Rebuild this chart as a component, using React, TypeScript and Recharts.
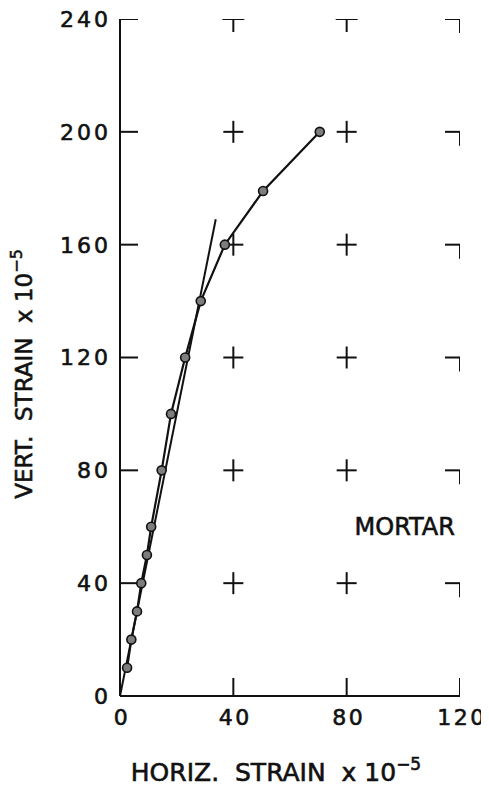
import React from "react";
import { ComposedChart, Line, Scatter, XAxis, YAxis, ReferenceDot, Label } from "recharts";

// Measured points (horizontal strain x 1e-5, vertical strain x 1e-5)
const horizStrain = [2.5, 4, 6, 7.5, 9.5, 11, 14.7, 18, 23, 28.5, 37, 50.5, 70.5];
const vertStrain = [10, 20, 30, 40, 50, 60, 80, 100, 120, 140, 160, 179, 200];

// Initial tangent line
const tangentHoriz = [0, 33.8];
const tangentVert = [0, 169];

const xTicks = [0, 40, 80, 120];
const yTicks = [0, 40, 80, 120, 160, 200, 240];

const annotation = "MORTAR";
const annotationX = 100.5;
const annotationY = 60;

const curve = horizStrain.map((x, i) => ({ x, y: vertStrain[i] }));
const tangent = tangentHoriz.map((x, i) => ({ x, y: tangentVert[i] }));

const xMax = xTicks[xTicks.length - 1];
const yMax = yTicks[yTicks.length - 1];
const gridMarks: { x: number; y: number; kind: string }[] = [];
yTicks.filter((v) => v > 0).forEach((y) => {
  gridMarks.push({ x: 0, y, kind: "ytick" });
  gridMarks.push({ x: xMax, y, kind: "corner" });
  xTicks.filter((v) => v > 0 && v < xMax).forEach((x) => {
    gridMarks.push({ x, y, kind: y === yMax ? "tee" : "cross" });
  });
});
xTicks.filter((v) => v > 0).forEach((x) => gridMarks.push({ x, y: 0, kind: "xtick" }));

const INK = "#111";
const FONT = "'DejaVu Sans', sans-serif";
const heavy = { stroke: INK, strokeWidth: 0.6 };

const GridMark = (props: any) => {
  const { cx, cy, payload } = props;
  const s = { stroke: INK, strokeWidth: 2, fill: "none" };
  switch (payload.kind) {
    case "cross":
      return (
        <g>
          <line x1={cx - 10} y1={cy} x2={cx + 10} y2={cy} {...s} />
          <line x1={cx} y1={cy - 11} x2={cx} y2={cy + 11} {...s} />
        </g>
      );
    case "tee":
      return (
        <g>
          <line x1={cx - 11} y1={cy} x2={cx + 11} y2={cy} {...s} />
          <line x1={cx} y1={cy} x2={cx} y2={cy + 13} {...s} />
        </g>
      );
    case "corner":
      return (
        <g>
          <line x1={cx - 15} y1={cy} x2={cx + 1} y2={cy} {...s} />
          <line x1={cx} y1={cy} x2={cx} y2={cy + 14} {...s} />
        </g>
      );
    case "ytick":
      return <line x1={cx} y1={cy} x2={cx + 18} y2={cy} {...s} />;
    case "xtick":
      return <line x1={cx} y1={cy} x2={cx} y2={cy - 18} {...s} />;
    default:
      return <g />;
  }
};

const Dot = (props: any) => {
  const { cx, cy } = props;
  if (cx == null || cy == null) return <g />;
  return <circle cx={cx} cy={cy} r={4.5} fill="#7d7d7d" stroke={INK} strokeWidth={1.6} />;
};

const XTick = (props: any) => {
  const { x, y, payload } = props;
  return (
    <text x={x + 2} y={y + 29} textAnchor="middle" fontFamily={FONT} fontSize={22} letterSpacing={2.5} fill={INK} {...heavy}>
      {payload.value}
    </text>
  );
};

const YTick = (props: any) => {
  const { x, y, payload } = props;
  return (
    <text x={x - 9} y={y} dy="0.36em" textAnchor="end" fontFamily={FONT} fontSize={22} letterSpacing={3} fill={INK} {...heavy}>
      {payload.value}
    </text>
  );
};

const XTitle = (props: any) => {
  const vb = props.viewBox || {};
  const cx = (vb.x ?? 112) + (vb.width ?? 340) / 2 - 14;
  return (
    <text x={cx} y={773} textAnchor="middle" fontFamily={FONT} fontSize={25} fill={INK} {...heavy} style={{ whiteSpace: "pre" }}>
      {"HORIZ.  STRAIN  x 10"}
      <tspan fontSize={17} dy={-11}>{"\u22125"}</tspan>
    </text>
  );
};

const YTitle = () => {
  const x = 24;
  const y = 366;
  return (
    <text x={x} y={y} transform={`rotate(-90, ${x}, ${y})`} textAnchor="middle" fontFamily={FONT} fontSize={23} fill={INK} {...heavy} style={{ whiteSpace: "pre" }}>
      {"VERT.  STRAIN  x 10"}
      <tspan fontSize={16} dy={-10}>{"\u22125"}</tspan>
    </text>
  );
};

export default function App() {
  return (
    <ComposedChart
      width={480}
      height={782}
      style={{ marginBottom: -8 }}
      margin={{ top: 11, right: 28, left: 0, bottom: 0 }}
    >
      <XAxis
        type="number"
        dataKey="x"
        domain={[0, xMax]}
        ticks={xTicks}
        allowDataOverflow
        height={94}
        tickSize={0}
        tickMargin={0}
        tickLine={false}
        axisLine={{ stroke: INK, strokeWidth: 2 }}
        tick={<XTick />}
      >
        <Label content={<XTitle />} />
      </XAxis>
      <YAxis
        type="number"
        dataKey="y"
        domain={[0, yMax]}
        ticks={yTicks}
        allowDataOverflow
        width={112}
        tickSize={0}
        tickMargin={0}
        tickLine={false}
        axisLine={{ stroke: INK, strokeWidth: 2 }}
        tick={<YTick />}
      >
        <Label content={<YTitle />} />
      </YAxis>
      <Scatter data={gridMarks} shape={<GridMark />} isAnimationActive={false} />
      <Line data={tangent} dataKey="y" type="linear" stroke={INK} strokeWidth={2} dot={false} activeDot={false} isAnimationActive={false} />
      <Line data={curve} dataKey="y" type="linear" stroke={INK} strokeWidth={2.2} dot={<Dot />} activeDot={false} isAnimationActive={false} />
      <ReferenceDot
        x={annotationX}
        y={annotationY}
        r={0}
        fill="none"
        stroke="none"
        label={{ value: annotation, position: "center", fontFamily: FONT, fontSize: 24, fill: INK, stroke: INK, strokeWidth: 0.6 }}
      />
    </ComposedChart>
  );
}
